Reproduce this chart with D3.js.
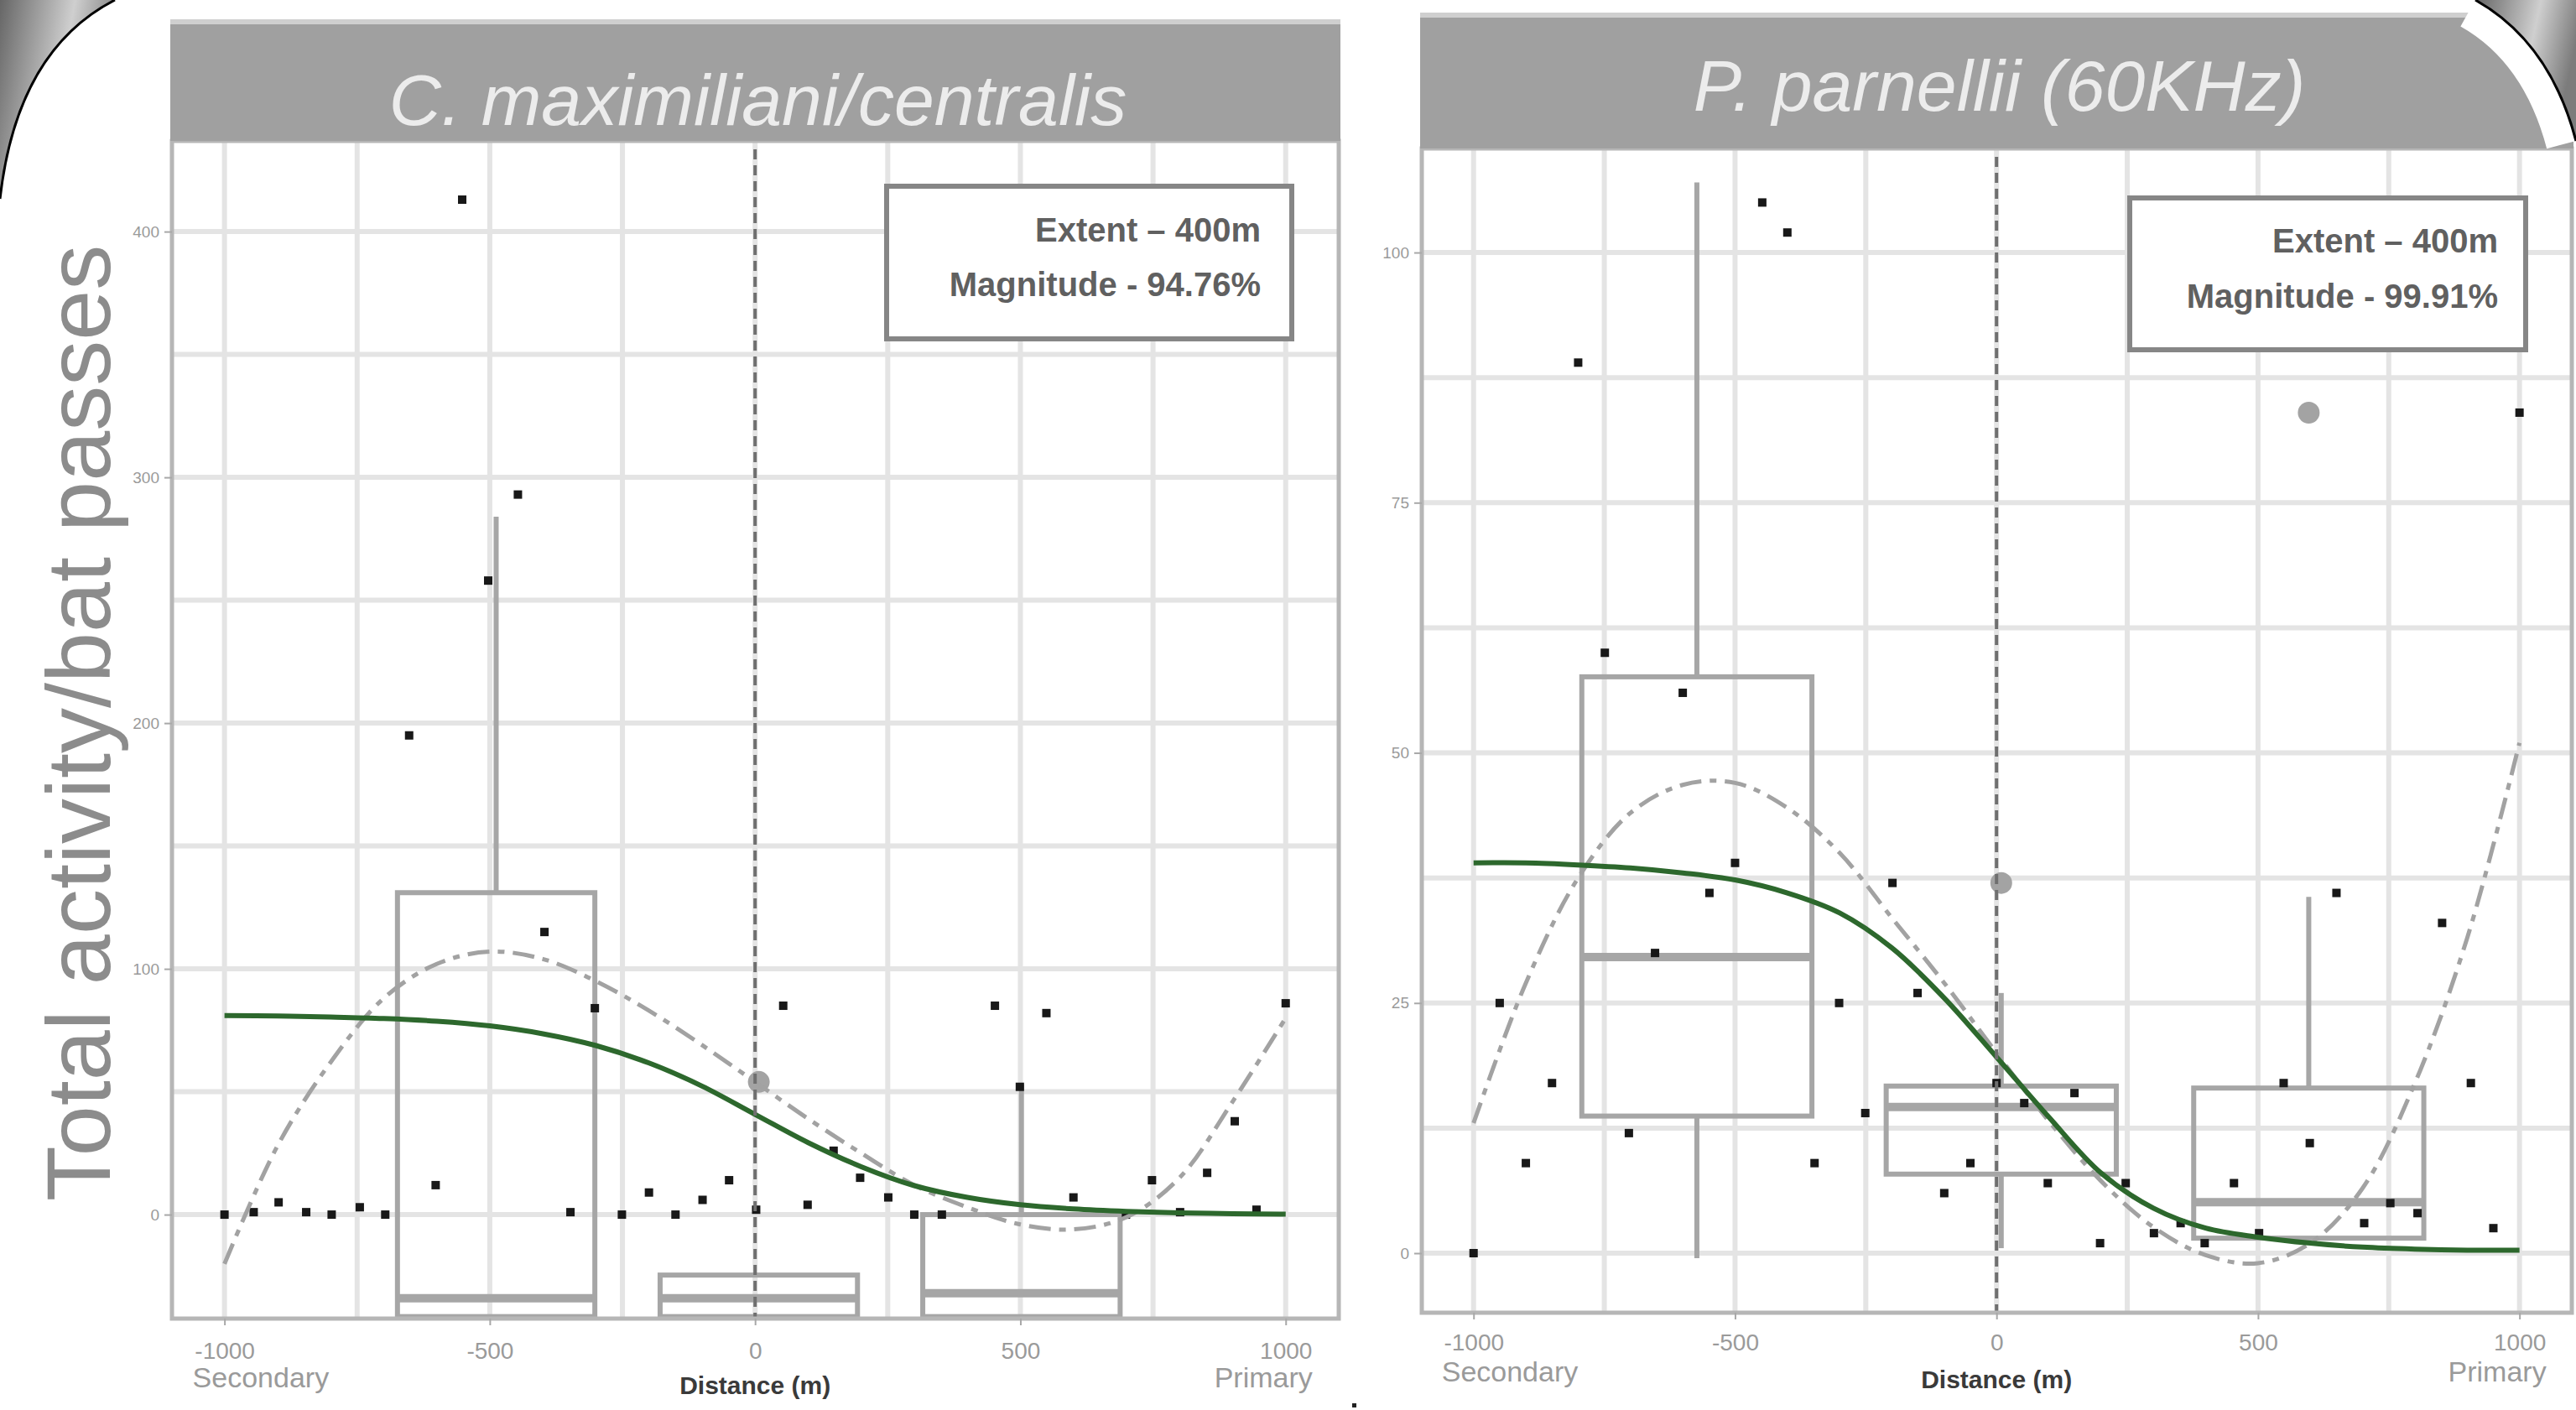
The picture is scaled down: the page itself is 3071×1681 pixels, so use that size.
<!DOCTYPE html>
<html>
<head>
<meta charset="utf-8">
<script src="https://cdn.jsdelivr.net/npm/d3@7"></script>
<style>
  body { margin: 0; background: #fff; }
  svg { display: block; font-family: "Liberation Sans", Arial, sans-serif; }
</style>
</head>
<body>
<svg width="3071" height="1681"></svg>
<script>
// ---- data ----
const leftTitle = "C. maximiliani/centralis";
const rightTitle = "P. parnellii (60KHz)";
const yAxisTitle = "Total activity/bat passes";
const xAxisTitle = "Distance (m)";
const leftNote = ["Extent \u2013 400m", "Magnitude - 94.76%"];
const rightNote = ["Extent \u2013 400m", "Magnitude - 99.91%"];

const xTicks = [-1000, -500, 0, 500, 1000];
const xTickLabels = ["-1000", "-500", "0", "500", "1000"];
const xEndLabels = ["Secondary", "Primary"];
const gridX = [-1000, -750, -500, -250, 0, 250, 500, 750, 1000];
const leftYTicks = [0, 100, 200, 300, 400];
const leftGridY = [0, 50, 100, 150, 200, 250, 300, 350, 400];
const rightYTicks = [0, 25, 50, 75, 100];
const rightGridY = [0, 12.5, 25, 37.5, 50, 62.5, 75, 87.5, 100];

// raw points [distance, passes]
const leftPoints = [
  [-1000, 0], [-945, 1], [-898, 5], [-846, 1], [-798, 0], [-745, 3], [-697, 0],
  [-652, 195], [-602, 12], [-552, 413], [-503, 258], [-447, 293], [-397, 115],
  [-348, 1], [-302, 84], [-251, 0], [-200, 9], [-150, 0], [-99, 6], [-49, 14],
  [2, 2], [53, 85], [99, 4], [148, 26], [198, 15], [251, 7], [300, 0], [352, 0],
  [452, 85], [499, 52], [549, 82], [600, 7], [699, 0], [748, 14], [801, 1],
  [852, 17], [904, 38], [945, 2], [1000, 86]
];
const rightPoints = [
  [-1000, 0], [-950, 25], [-900, 9], [-850, 17], [-800, 89], [-749, 60], [-703, 12],
  [-653, 30], [-600, 56], [-549, 36], [-500, 39], [-448, 105], [-400, 102],
  [-348, 9], [-301, 25], [-251, 14], [-199, 37], [-151, 26], [-100, 6], [-50, 9],
  [0, 17], [53, 15], [98, 7], [149, 16], [198, 1], [247, 7], [301, 2], [352, 3],
  [398, 1], [454, 7], [502, 2], [549, 17], [599, 11], [650, 36], [703, 3],
  [753, 5], [805, 4], [852, 33], [907, 17], [950, 2.5], [1000, 84]
];

// boxplots: centre, lower whisker, q1, median, q3, upper whisker
const leftBoxes = [
  { x: -488, lo: -60, q1: -41.5, med: -34, q3: 131, hi: 284 },
  { x: 7, lo: -41.5, q1: -41.5, med: -34, q3: -24.6, hi: -24.6 },
  { x: 502, lo: -41.5, q1: -41.5, med: -32, q3: 0, hi: 53 }
];
const rightBoxes = [
  { x: -573, lo: -0.5, q1: 13.7, med: 29.6, q3: 57.6, hi: 107 },
  { x: 9, lo: 0.5, q1: 7.9, med: 14.6, q3: 16.7, hi: 26 },
  { x: 597, lo: 1.5, q1: 1.5, med: 5.1, q3: 16.5, hi: 35.6 }
];
const leftOutliers = [[7, 54]];
const rightOutliers = [[9, 37], [597, 84]];

// fitted curves, read every 100 m
const curveX = [-1000, -900, -800, -700, -600, -500, -400, -300, -200, -100, 0,
  100, 200, 300, 400, 500, 600, 700, 800, 900, 1000];
const leftSmooth = [81, 80.8, 80.4, 79.8, 78.7, 76.8, 73.6, 68.8, 61.7, 52.3, 40.8,
  29.3, 19.5, 11.8, 7.0, 4.0, 2.3, 1.3, 0.7, 0.4, 0.2];
const leftPoly = [-20, 28, 62, 88, 102, 107, 104, 95, 83, 69, 54,
  39, 25, 12, 3, -4, -6, -1, 15, 46, 80];
const rightSmooth = [39, 39, 38.8, 38.5, 38, 37.3, 36, 34, 30.5, 25.5, 19.6,
  13.6, 8, 4.5, 2.5, 1.6, 1, 0.6, 0.4, 0.3, 0.3];
const rightPoly = [13, 27, 37.5, 44, 46.8, 47, 44.5, 40, 33.5, 27, 20,
  13.2, 7.2, 2.6, -0.2, -1, 1, 6.5, 17, 31.5, 51];

// ---- layout ----
const xDomain = [-1099, 1100];
const panels = [
  {
    id: "left", title: leftTitle, note: leftNote,
    left: 205, right: 1596, top: 168, bottom: 1572, stripTop: 23, titleY: 149,
    yDomain: [-42.3, 436.9], yTicks: leftYTicks, gridY: leftGridY,
    points: leftPoints, boxes: leftBoxes, boxWidth: 372, outliers: leftOutliers,
    smooth: leftSmooth, poly: leftPoly,
    noteBox: [1057, 222, 1540, 404], noteRight: 1503, noteY: [288, 353],
    xLabelY: 48
  },
  {
    id: "right", title: rightTitle, note: rightNote,
    left: 1695, right: 3066, top: 177, bottom: 1565, stripTop: 15, titleY: 132,
    yDomain: [-5.95, 110.4], yTicks: rightYTicks, gridY: rightGridY,
    points: rightPoints, boxes: rightBoxes, boxWidth: 440, outliers: rightOutliers,
    smooth: rightSmooth, poly: rightPoly,
    noteBox: [2539, 236, 3011, 417], noteRight: 2978, noteY: [301, 367],
    xLabelY: 45
  }
];

const svg = d3.select("svg");
const defs = svg.append("defs");

svg.append("rect").attr("width", 3071).attr("height", 1681).attr("fill", "#fff");

function drawPanel(p) {
  const x = d3.scaleLinear().domain(xDomain).range([p.left, p.right]);
  const y = d3.scaleLinear().domain(p.yDomain).range([p.bottom, p.top]);
  const g = svg.append("g").attr("class", "panel-" + p.id);

  defs.append("clipPath").attr("id", "clip-" + p.id)
    .append("rect")
    .attr("x", p.left).attr("y", p.top)
    .attr("width", p.right - p.left).attr("height", p.bottom - p.top);

  const plot = g.append("g").attr("clip-path", "url(#clip-" + p.id + ")");

  // grid
  plot.selectAll(".gx").data(gridX).enter().append("line")
    .attr("x1", d => x(d)).attr("x2", d => x(d))
    .attr("y1", p.top).attr("y2", p.bottom)
    .attr("stroke", "#e4e4e4").attr("stroke-width", 6);
  plot.selectAll(".gy").data(p.gridY).enter().append("line")
    .attr("x1", p.left).attr("x2", p.right)
    .attr("y1", d => y(d)).attr("y2", d => y(d))
    .attr("stroke", "#e4e4e4").attr("stroke-width", 6);

  // boxplots
  const boxColor = "#a6a6a6";
  const bw = p.boxWidth / 2;
  const boxes = plot.selectAll(".box").data(p.boxes).enter().append("g");
  boxes.append("line")
    .attr("x1", d => x(d.x)).attr("x2", d => x(d.x))
    .attr("y1", d => y(d.q3)).attr("y2", d => y(d.hi))
    .attr("stroke", boxColor).attr("stroke-width", 6);
  boxes.append("line")
    .attr("x1", d => x(d.x)).attr("x2", d => x(d.x))
    .attr("y1", d => y(d.q1)).attr("y2", d => y(d.lo))
    .attr("stroke", boxColor).attr("stroke-width", 6);
  boxes.append("rect")
    .attr("x", d => x(d.x - bw)).attr("width", d => x(d.x + bw) - x(d.x - bw))
    .attr("y", d => y(d.q3)).attr("height", d => y(d.q1) - y(d.q3))
    .attr("fill", "none").attr("stroke", boxColor).attr("stroke-width", 6);
  boxes.append("line")
    .attr("x1", d => x(d.x - bw)).attr("x2", d => x(d.x + bw))
    .attr("y1", d => y(d.med)).attr("y2", d => y(d.med))
    .attr("stroke", boxColor).attr("stroke-width", 10);

  plot.selectAll(".outlier").data(p.outliers).enter().append("circle")
    .attr("cx", d => x(d[0])).attr("cy", d => y(d[1])).attr("r", 13)
    .attr("fill", "#a3a3a3");

  // points
  plot.selectAll(".pt").data(p.points).enter().append("rect")
    .attr("x", d => x(d[0]) - 5).attr("y", d => y(d[1]) - 5)
    .attr("width", 10).attr("height", 10)
    .attr("fill", "#181818");

  // fitted curves
  const line = d3.line()
    .x((d, i) => x(curveX[i]))
    .y(d => y(d))
    .curve(d3.curveCatmullRom.alpha(0.5));

  plot.append("path").datum(p.poly)
    .attr("d", line).attr("fill", "none")
    .attr("stroke", "#a2a2a2").attr("stroke-width", 5)
    .attr("stroke-dasharray", "26,10,8,10");

  plot.append("path").datum(p.smooth)
    .attr("d", line).attr("fill", "none")
    .attr("stroke", "#2d682d").attr("stroke-width", 6);

  // x = 0 reference
  plot.append("line")
    .attr("x1", x(0)).attr("x2", x(0))
    .attr("y1", p.top + 10).attr("y2", p.bottom)
    .attr("stroke", "#6f6f6f").attr("stroke-width", 4)
    .attr("stroke-dasharray", "12,7");

  // annotation
  const nb = p.noteBox;
  g.append("rect")
    .attr("x", nb[0]).attr("y", nb[1])
    .attr("width", nb[2] - nb[0]).attr("height", nb[3] - nb[1])
    .attr("fill", "#fff").attr("stroke", "#868686").attr("stroke-width", 6);
  g.selectAll(".note").data(p.note).enter().append("text")
    .attr("x", p.noteRight).attr("y", (d, i) => p.noteY[i])
    .attr("text-anchor", "end")
    .attr("font-size", 40).attr("font-weight", "bold")
    .attr("fill", "#606060")
    .text(d => d);

  // panel border
  g.append("rect")
    .attr("x", p.left).attr("y", p.top)
    .attr("width", p.right - p.left).attr("height", p.bottom - p.top)
    .attr("fill", "none").attr("stroke", "#b6b6b6").attr("stroke-width", 5);

  // strip
  g.append("rect")
    .attr("x", p.left - 2).attr("y", p.stripTop)
    .attr("width", p.right - p.left + 4).attr("height", p.top - p.stripTop)
    .attr("fill", "#cfcfcf");
  g.append("rect")
    .attr("x", p.left - 2).attr("y", p.stripTop + 6)
    .attr("width", p.right - p.left + 4).attr("height", p.top - p.stripTop - 6)
    .attr("fill", "#a0a0a0");
  g.append("text")
    .attr("x", (p.left + p.right) / 2 + 3).attr("y", p.titleY)
    .attr("text-anchor", "middle")
    .attr("font-size", 86).attr("font-style", "italic")
    .attr("fill", "#ececec")
    .text(p.title);

  // y axis
  const yAxis = g.append("g")
    .attr("transform", "translate(" + p.left + ",0)")
    .call(d3.axisLeft(y).tickValues(p.yTicks).tickSize(9).tickPadding(6));
  yAxis.select(".domain").remove();
  yAxis.selectAll("line").attr("stroke", "#a8a8a8").attr("stroke-width", 2);
  yAxis.selectAll("text")
    .attr("font-size", 19).attr("fill", "#9a9a9a")
    .attr("font-family", "Liberation Sans, Arial, sans-serif");

  // x axis
  const xAxis = g.append("g")
    .attr("transform", "translate(0," + p.bottom + ")")
    .call(d3.axisBottom(x).tickValues(xTicks).tickSize(8)
      .tickFormat((d, i) => xTickLabels[i]));
  xAxis.select(".domain").remove();
  xAxis.selectAll("line").attr("stroke", "#a8a8a8").attr("stroke-width", 2);
  xAxis.selectAll("text")
    .attr("y", p.xLabelY).attr("dy", 0)
    .attr("font-size", 28).attr("fill", "#9a9a9a")
    .attr("font-family", "Liberation Sans, Arial, sans-serif");

  g.append("text")
    .attr("x", x(xTicks[0]) - 38).attr("y", p.bottom + 82)
    .attr("font-size", 34).attr("fill", "#9a9a9a")
    .text(xEndLabels[0]);
  g.append("text")
    .attr("x", x(xTicks[xTicks.length - 1]) + 32).attr("y", p.bottom + 82)
    .attr("text-anchor", "end")
    .attr("font-size", 34).attr("fill", "#9a9a9a")
    .text(xEndLabels[1]);
  g.append("text")
    .attr("x", x(0)).attr("y", p.bottom + 90)
    .attr("text-anchor", "middle")
    .attr("font-size", 30).attr("font-weight", "bold")
    .attr("fill", "#3a3a3a")
    .text(xAxisTitle);
}

panels.forEach(drawPanel);

// shared y title
svg.append("text")
  .attr("transform", "translate(131,862) rotate(-90)")
  .attr("text-anchor", "middle")
  .attr("font-size", 108)
  .attr("fill", "#8c8c8c")
  .text(yAxisTitle);

// slide frame corners
const metal = defs.append("linearGradient").attr("id", "metal")
  .attr("x1", 0).attr("x2", 1).attr("y1", 0).attr("y2", 0.3);
metal.append("stop").attr("offset", 0).attr("stop-color", "#666");
metal.append("stop").attr("offset", 0.45).attr("stop-color", "#b4b4b4");
metal.append("stop").attr("offset", 0.6).attr("stop-color", "#cfcfcf");
metal.append("stop").attr("offset", 1).attr("stop-color", "#7c7c7c");

const corners = [
  { curve: "M137,0 Q20,60 0,237", close: "L0,0 Z" },
  { curve: "M2951,0 Q3040,50 3071,168", close: "L3071,0 Z" }
];
corners.forEach(function (c) {
  svg.append("path").attr("d", c.curve)
    .attr("fill", "none").attr("stroke", "#fff").attr("stroke-width", 72);
  svg.append("path").attr("d", c.curve + " " + c.close)
    .attr("fill", "url(#metal)");
  svg.append("path").attr("d", c.curve)
    .attr("fill", "none").attr("stroke", "#000").attr("stroke-width", 3);
});

svg.append("rect").attr("x", 1612).attr("y", 1673).attr("width", 5).attr("height", 5).attr("fill", "#222");
</script>
</body>
</html>
